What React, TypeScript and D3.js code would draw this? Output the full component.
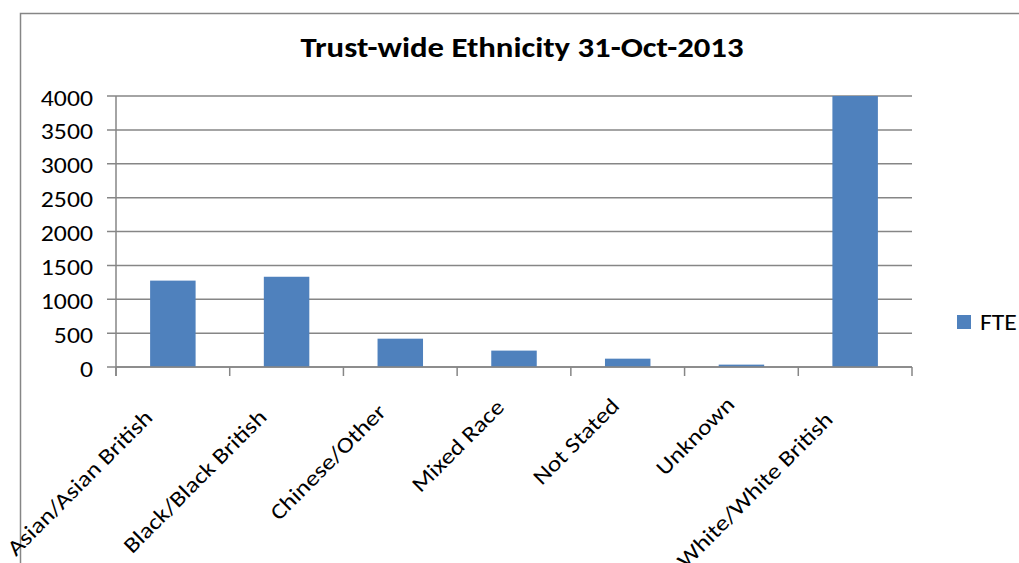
import React from "react";
import * as d3 from "d3";

const categories = [
  "Asian/Asian British",
  "Black/Black British",
  "Chinese/Other",
  "Mixed Race",
  "Not Stated",
  "Unknown",
  "White/White British",
];
const fteValues = [1275, 1332, 418, 242, 123, 35, 4000];
const yTicks = [0, 500, 1000, 1500, 2000, 2500, 3000, 3500, 4000];
const seriesName = "FTE";
const title = "Trust-wide Ethnicity 31-Oct-2013";

const W = 1019;
const H = 563;
const FONT = "Carlito, Calibri, 'Open Sans', sans-serif";
const GRID = "#868686";
const BAR = "#4f81bd";
const SX = 1.17;
const LABEL_SIZE = 22;

function measure(text: string, size: number): number {
  if (typeof document === "undefined") return text.length * size * 0.45;
  const ctx = document.createElement("canvas").getContext("2d");
  if (!ctx) return text.length * size * 0.45;
  ctx.font = `${size}px Carlito, Calibri, 'Open Sans', sans-serif`;
  return ctx.measureText(text).width;
}

export default function App() {
  const left = 116;
  const right = 912;
  const top = 96;
  const bottom = 367;
  const x = d3.scaleBand<string>().domain(categories).range([left, right]).paddingInner(0.6).paddingOuter(0.3);
  const xTickScale = d3.scaleLinear().domain([0, categories.length]).range([left, right]);
  const y = d3.scaleLinear().domain([0, 4000]).range([bottom, top]).clamp(true);

  const widths = categories.map((c) => measure(c, LABEL_SIZE));
  const wRef = d3.max(widths) as number;

  return (
    <svg width={W} height={H} style={{ position: "absolute", left: 0, top: 0, background: "#fff" }}>
      <defs>
        <clipPath id="pageClip">
          <rect x={9} y={0} width={W - 9} height={H} />
        </clipPath>
      </defs>
      <g clipPath="url(#pageClip)">
        <rect x={20.5} y={13.5} width={W + 20} height={H + 20} fill="none" stroke={GRID} strokeWidth={1.5} />
        <g transform={`translate(522, 57) scale(${SX}, 1)`}>
          <text x={0} y={0} textAnchor="middle" fontFamily={FONT} fontWeight="bold" fontSize={28} fill="#000">
            {title}
          </text>
        </g>
        {yTicks.map((t) => (
          <g key={t}>
            <line x1={107} x2={right} y1={y(t)} y2={y(t)} stroke={GRID} strokeWidth={1.5} />
            <g transform={`translate(93, ${y(t) + 9.5}) scale(${SX}, 1)`}>
              <text x={0} y={0} textAnchor="end" fontFamily={FONT} fontSize={22} fill="#000">
                {t}
              </text>
            </g>
          </g>
        ))}
        {categories.map((c, i) => (
          <rect key={c} x={x(c)} y={y(fteValues[i])} width={x.bandwidth()} height={bottom - y(fteValues[i])} fill={BAR} />
        ))}
        <line x1={left} x2={left} y1={top} y2={bottom + 9} stroke={GRID} strokeWidth={1.5} />
        <line x1={left} x2={right} y1={bottom} y2={bottom} stroke={GRID} strokeWidth={1.5} />
        {d3.range(categories.length + 1).map((i) => (
          <line key={i} x1={xTickScale(i)} x2={xTickScale(i)} y1={bottom} y2={bottom + 9} stroke={GRID} strokeWidth={1.5} />
        ))}
        {categories.map((c, i) => {
          const cx = (x(c) as number) + x.bandwidth() / 2;
          const ax = cx - 21;
          const ay = 421;
          const shift = 0.2 * (wRef - widths[i]);
          return (
            <g key={c} transform={`translate(${ax}, ${ay}) rotate(-45) scale(${SX}, 1)`}>
              <text x={shift} y={0} textAnchor="end" fontFamily={FONT} fontSize={LABEL_SIZE} fill="#000">
                {c}
              </text>
            </g>
          );
        })}
        <rect x={957} y={315} width={14} height={14} fill={BAR} />
        <g transform={`translate(980, 330) scale(${SX}, 1)`}>
          <text x={0} y={0} fontFamily={FONT} fontSize={22} fill="#000">
            {seriesName}
          </text>
        </g>
      </g>
    </svg>
  );
}
